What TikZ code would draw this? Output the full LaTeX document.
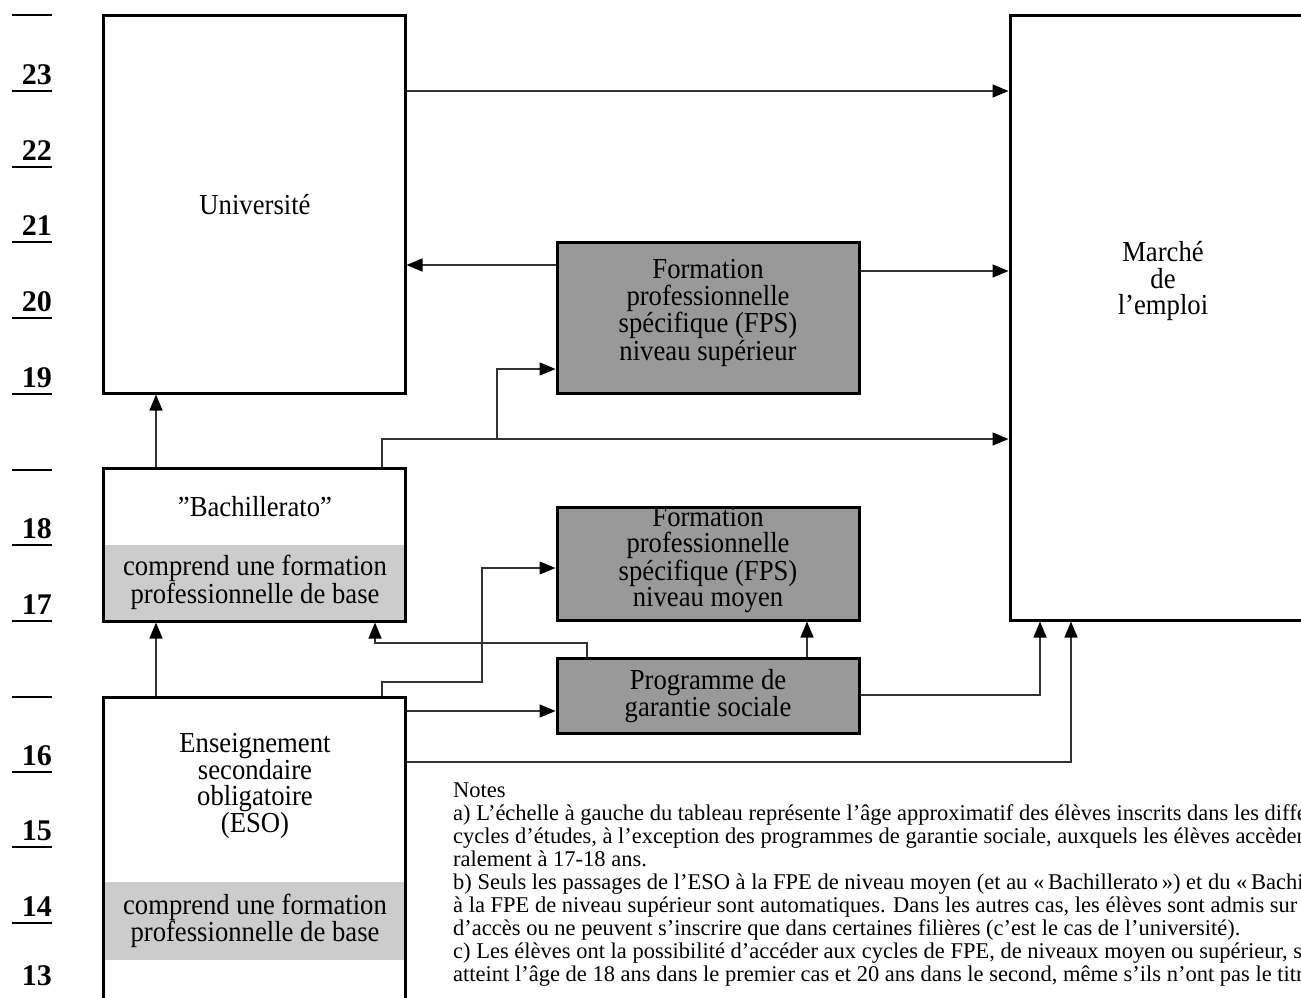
\documentclass[tikz,border=0pt]{standalone}
\usepackage{fontspec}
\setmainfont{Liberation Serif}
\newfontfamily\condfont[FakeStretch=0.92]{Liberation Serif}
\usetikzlibrary{arrows.meta}
\definecolor{darkbox}{HTML}{999999}
\definecolor{lightband}{HTML}{CCCCCC}
\definecolor{wire}{HTML}{333333}
\begin{document}
\begin{tikzpicture}[x=1pt,y=-1pt,
  box/.style={draw=black,line width=3pt,inner sep=0pt,minimum width=302pt,fill=white},
  darkbx/.style={box,fill=darkbox},
  band/.style={fill=lightband,draw=none,inner sep=0pt,minimum width=299pt},
  txt/.style={font=\condfont\fontsize{29}{26}\selectfont,align=center,inner sep=0pt},
  note/.style={font=\fontsize{22.5}{23}\selectfont,anchor=base west,inner sep=0pt},
  num/.style={font=\fontsize{30}{30}\selectfont\bfseries,anchor=base east,inner sep=0pt},
  agerule/.style={line width=2.5pt,black},
  arr/.style={draw=wire,line width=1.4pt,-{Triangle[length=16pt,width=13pt,color=black]}}]
\useasboundingbox (0,0) rectangle (1301,997);
\fill[white] (0,0) rectangle (1301,997);
\clip (0,0) rectangle (1301,997);

% age scale
\foreach \yy in {15,470,697}{\draw[agerule] (12,\yy) -- (52,\yy);}
\foreach \n/\yy in {23/91,22/167,21/242,20/318,19/394,18/545,17/621,16/772,15/847,14/923}{
  \draw[agerule] (12,\yy) -- (52,\yy);
  \node[num] (age\n) at (52,\yy-7) {\n};
}
\node[num] (age13) at (52,985) {13};

% boxes
\node[box,minimum height=378pt] (univ) at (254,204) {};
\node[txt] (univt) at (255,205) {Université};

\node[box,minimum height=153pt] (bach) at (254,544.5) {};
\node[band,minimum height=74.5pt] (bachband) at (254,582.25) {};
\node[txt] (bacht) at (255,507) {”Bachillerato”};
\node[txt,font=\condfont\fontsize{29}{28}\selectfont] (bachbt) at (255,582) {comprend une formation\\professionnelle de base};

\node[box,minimum height=315pt] (eso) at (254,854.5) {};
\node[band,minimum height=78pt] (esoband) at (254,921) {};
\node[txt,font=\condfont\fontsize{29}{25.3}\selectfont] (esot) at (255,786) {Enseignement\\secondaire\\obligatoire\\(ESO)};
\node[txt,font=\condfont\fontsize{29}{27}\selectfont] (esobt) at (255,921) {comprend une formation\\professionnelle de base};

\node[darkbx,minimum height=151pt] (fpss) at (708,317.5) {};
\node[txt,font=\condfont\fontsize{29}{26.3}\selectfont] (fpsst) at (708,313) {Formation\\professionnelle\\spécifique (FPS)\\niveau supérieur};

\node[darkbx,minimum height=113pt] (fpsm) at (708,563.5) {};
\node[txt,font=\condfont\fontsize{29}{26.3}\selectfont] (fpsmt) at (708,560) {Formation\\professionnelle\\spécifique (FPS)\\niveau moyen};

\node[darkbx,minimum height=75pt] (prog) at (708,695.5) {};
\node[txt] (progt) at (708,696) {Programme de\\garantie sociale};

\node[box,minimum width=315pt,minimum height=605pt] (marche) at (1167.5,317.5) {};
\node[txt,font=\condfont\fontsize{29}{26.3}\selectfont] (marchet) at (1163,281) {Marché\\de\\l’emploi};

% connectors
\draw[arr] (univ.east |- 0,91) -- (marche.west |- 0,91);
\draw[arr] (fpss.west |- 0,265) -- (univ.east |- 0,265);
\draw[arr] (fpss.east |- 0,271) -- (marche.west |- 0,271);
\draw[arr] (bach.north -| 382,0) |- (marche.west |- 0,439);
\coordinate (j1) at (497,439);
\draw[arr] (j1) |- (fpss.west |- 0,369);
\draw[arr] (bach.north -| 156,0) -- (univ.south -| 156,0);
\draw[arr] (eso.north -| 156,0) -- (bach.south -| 156,0);
\draw[arr] (eso.north -| 382,0) -- (382,682) -- (482,682) |- (fpsm.west |- 0,568);
\draw[arr] (prog.north -| 587,0) -- (587,643) -| (bach.south -| 375,0);
\draw[arr] (eso.east |- 0,711) -- (prog.west |- 0,711);
\draw[arr] (prog.north -| 807,0) -- (fpsm.south -| 807,0);
\draw[arr] (prog.east |- 0,695) -| (marche.south -| 1040,0);
\draw[arr] (eso.east |- 0,762) -| (marche.south -| 1071,0);

% notes
\node[note] (n0) at (453,797) {Notes};
\node[note] (n1) at (453,820) {a) L’échelle à gauche du tableau représente l’âge approximatif des élèves inscrits dans les différents};
\node[note] (n2) at (453,843) {cycles d’études, à l’exception des programmes de garantie sociale, auxquels les élèves accèdent géné-};
\node[note] (n3) at (453,866) {ralement à 17-18 ans.};
\node[note] (n4) at (453,889) {b) Seuls les passages de l'ESO à la FPE de niveau moyen (et au «\,Bachillerato\,») et du «\,Bachillerato\,»};
\node[note] (n5) at (453,912) {à la FPE de niveau supérieur sont automatiques. Dans les autres cas, les élèves sont admis sur examen};
\node[note] (n6) at (453,935) {d’accès ou ne peuvent s’inscrire que dans certaines filières (c’est le cas de l’université).};
\node[note] (n7) at (453,958) {c) Les élèves ont la possibilité d’accéder aux cycles de FPE, de niveaux moyen ou supérieur, s’ils ont};
\node[note] (n8) at (453,981) {atteint l’âge de 18 ans dans le premier cas et 20 ans dans le second, même s’ils n’ont pas le titre de};
\end{tikzpicture}
\end{document}
